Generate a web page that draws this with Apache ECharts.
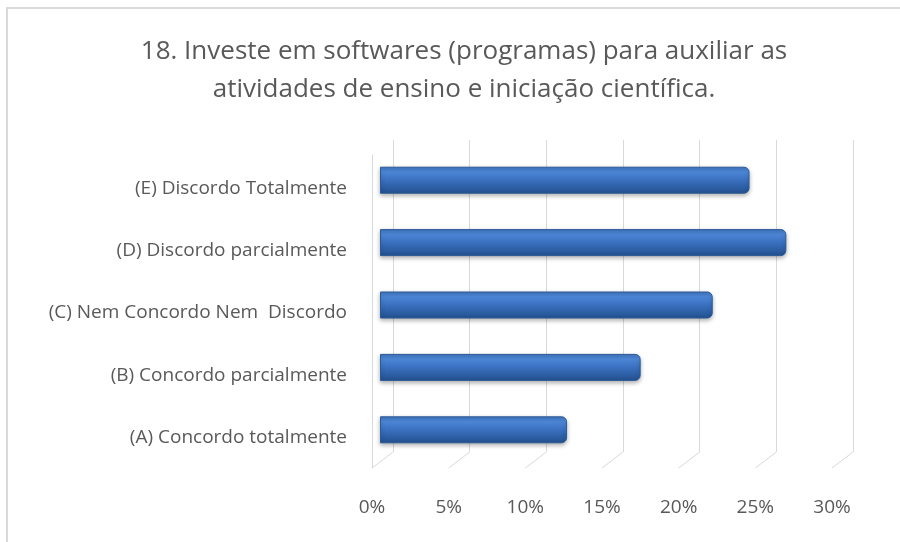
<!DOCTYPE html>
<html>
<head>
<meta charset="utf-8">
<script src="https://cdn.jsdelivr.net/npm/echarts@6/dist/echarts.min.js"></script>
<style>html,body{margin:0;padding:0;background:#fff}#c{width:900px;height:542px}</style>
</head>
<body>
<div id="c"></div>
<script>
const titleText = "18. Investe em softwares (programas) para auxiliar as\natividades de ensino e iniciação científica.";
const categories = ["(A) Concordo totalmente", "(B) Concordo parcialmente", "(C) Nem Concordo Nem  Discordo", "(D) Discordo parcialmente", "(E) Discordo Totalmente"];
const values = [12.2, 17.0, 21.7, 26.5, 24.1];
const ticks = [0, 5, 10, 15, 20, 25, 30];

const FONT = "'Open Sans', sans-serif";
const chart = echarts.init(document.getElementById('c'));
const depthX = -21, depthY = 16;

chart.setOption({
  animation: false,
  backgroundColor: '#fff',
  title: {
    text: titleText, left: 459, top: 28, textAlign: 'center',
    textStyle: { fontFamily: FONT, fontSize: 26, fontWeight: 'normal', color: '#595959', lineHeight: 38 }
  },
  graphic: [{
    type: 'rect', shape: { x: 7, y: 8, width: 900, height: 545 },
    style: { fill: 'none', stroke: '#d9d9d9', lineWidth: 2 }, silent: true, z: -10
  }],
  grid: [
    { left: 380, width: 460, top: 149, height: 312 },          // bars
    { left: 393, width: 460, top: 140, height: 312 },          // back wall
    { left: 372, width: 460, top: 155, height: 313 },          // front floor / tick labels
    { left: 380, width: 460, top: 157, height: 312 }           // category labels (front)
  ],
  xAxis: [
    { gridIndex: 0, type: 'value', min: 0, max: 30, interval: 5, show: false },
    { gridIndex: 1, type: 'value', min: 0, max: 30, interval: 5,
      axisLine: { show: false }, axisTick: { show: false }, axisLabel: { show: false },
      splitLine: { show: true, lineStyle: { color: '#d9d9d9', width: 1 } } },
    { gridIndex: 2, type: 'value', min: 0, max: 30, interval: 5,
      axisLine: { show: false }, axisTick: { show: false }, splitLine: { show: false },
      axisLabel: { margin: 30, fontFamily: FONT, fontSize: 19, color: '#595959', formatter: v => v + '%' } },
    { gridIndex: 3, type: 'value', min: 0, max: 30, show: false }
  ],
  yAxis: [
    { gridIndex: 0, type: 'category', data: categories, show: false },
    { gridIndex: 1, type: 'value', min: 0, max: 1, show: false },
    { gridIndex: 2, type: 'value', min: 0, max: 1,
      axisLine: { show: true, lineStyle: { color: '#d9d9d9' } }, axisTick: { show: false },
      axisLabel: { show: false }, splitLine: { show: false } },
    { gridIndex: 3, type: 'category', data: categories,
      axisLine: { show: false }, axisTick: { show: false },
      axisLabel: { margin: 33, fontFamily: FONT, fontSize: 19, color: '#595959' } }
  ],
  series: [
    {
      type: 'custom', xAxisIndex: 1, yAxisIndex: 1, silent: true, z: 1,
      data: ticks.map(t => [t, 0]),
      renderItem: function (params, api) {
        const p = api.coord([api.value(0), 0]);
        return { type: 'line', shape: { x1: p[0], y1: p[1], x2: p[0] + depthX, y2: p[1] + depthY },
                 style: { stroke: '#d9d9d9', lineWidth: 1 } };
      }
    },
    {
      type: 'bar', xAxisIndex: 0, yAxisIndex: 0, data: values, barWidth: 27, z: 3,
      itemStyle: {
        borderRadius: [0, 5, 5, 0],
        borderColor: '#2b5a96', borderWidth: 1,
        shadowColor: 'rgba(0,0,0,0.3)', shadowBlur: 4, shadowOffsetY: 2,
        color: new echarts.graphic.LinearGradient(0, 0, 0, 1, [
          { offset: 0, color: '#3f75c0' },
          { offset: 0.18, color: '#4d88d8' },
          { offset: 0.5, color: '#3a70bf' },
          { offset: 1, color: '#22508e' }
        ])
      }
    }
  ]
});
</script>
</body>
</html>
